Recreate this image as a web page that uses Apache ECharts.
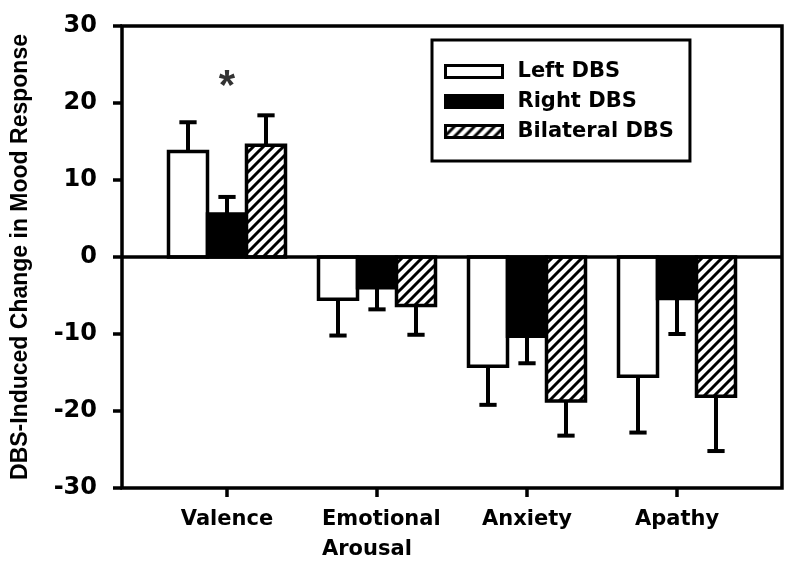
<!DOCTYPE html>
<html>
<head>
<meta charset="utf-8">
<script src="https://cdn.jsdelivr.net/npm/echarts@6/dist/echarts.min.js"></script>
<style>
html,body{margin:0;padding:0;background:#fff;}
#chart{width:795px;height:569px;}
</style>
</head>
<body>
<div id="chart"></div>
<script>
// ---- data ----
const categories = ['Valence', 'Emotional\nArousal', 'Anxiety', 'Apathy'];
const seriesNames = ['Left DBS', 'Right DBS', 'Bilateral DBS'];
const leftMean = [13.7, -5.5, -14.2, -15.5];
const leftErr = [3.8, 4.7, 5.0, 7.3];
const rightMean = [5.6, -4.0, -10.3, -5.4];
const rightErr = [2.2, 2.8, 3.5, 4.6];
const bilatMean = [14.5, -6.3, -18.7, -18.1];
const bilatErr = [3.9, 3.8, 4.5, 7.1];
const yTicks = [-30, -20, -10, 0, 10, 20, 30];
const significance = [{ category: 0, value: 22, mark: '*' }];

// ---- styles ----
const BAR_W = 0.26;   // in category units
const CAP_W = 0.115;
const LW = 3.5;

function makeHatch() {
  const c = document.createElement('canvas');
  c.width = 10; c.height = 10;
  const ctx = c.getContext('2d');
  ctx.fillStyle = '#fff';
  ctx.fillRect(0, 0, 10, 10);
  ctx.strokeStyle = '#000';
  ctx.lineWidth = 3;
  ctx.lineCap = 'square';
  ctx.beginPath();
  ctx.moveTo(-5, 15); ctx.lineTo(15, -5);
  ctx.moveTo(-10, 10); ctx.lineTo(10, -10);
  ctx.moveTo(0, 20); ctx.lineTo(20, 0);
  ctx.stroke();
  return c;
}
const hatch = { image: makeHatch(), repeat: 'repeat' };
const fills = ['#ffffff', '#000000', hatch];

function makeData(mean, err) {
  return mean.map((m, i) => [i, m, err[i]]);
}

function renderer(offsetIdx, fill) {
  return function (params, api) {
    const cat = api.value(0), val = api.value(1), err = api.value(2);
    const unit = api.size([1, 0])[0];
    const w = BAR_W * unit;
    const cap = CAP_W * unit;
    const base = api.coord([cat, 0]);
    const top = api.coord([cat, val]);
    const end = api.coord([cat, val + (val >= 0 ? err : -err)]);
    const cx = base[0] + offsetIdx * w;
    return {
      type: 'group',
      children: [
        { type: 'line', shape: { x1: cx, y1: top[1], x2: cx, y2: end[1] },
          style: { stroke: '#000', lineWidth: 4 } },
        { type: 'line', shape: { x1: cx - cap / 2, y1: end[1], x2: cx + cap / 2, y2: end[1] },
          style: { stroke: '#000', lineWidth: 4 } },
        { type: 'rect', shape: { x: cx - w / 2, y: Math.min(base[1], top[1]), width: w, height: Math.abs(top[1] - base[1]) },
          style: { fill: fill, stroke: '#000', lineWidth: LW } }
      ]
    };
  };
}

const chart = echarts.init(document.getElementById('chart'), null, { renderer: 'canvas' });
const option = {
  animation: false,
  backgroundColor: '#fff',
  grid: { left: 122, right: 13, top: 26, bottom: 81, show: true, borderColor: '#000', borderWidth: LW, backgroundColor: 'transparent' },
  xAxis: {
    type: 'value', min: -0.7, max: 3.7,
    splitLine: { show: false },
    axisLine: { show: false, onZero: false },
    axisTick: { show: true, customValues: [0, 1, 2, 3], length: 9, inside: false, lineStyle: { color: '#000', width: LW } },
    axisLabel: {
      show: true, customValues: [0, 1, 2, 3], margin: 17,
      formatter: function (v) {
        const s = categories[Math.round(v)];
        if (s.indexOf('\n') >= 0) {
          const p = s.split('\n');
          return '{a|' + p[0] + '}\n{b|' + p[1] + '}';
        }
        return s;
      },
      color: '#000', fontFamily: 'DejaVu Sans', fontWeight: 'bold', fontSize: 21, lineHeight: 30,
      rich: {
        a: { fontFamily: 'DejaVu Sans', fontWeight: 'bold', fontSize: 21, lineHeight: 30, color: '#000', width: 110, align: 'left' },
        b: { fontFamily: 'DejaVu Sans', fontWeight: 'bold', fontSize: 21, lineHeight: 30, color: '#000', width: 110, align: 'left' }
      }
    }
  },
  yAxis: {
    type: 'value', min: yTicks[0], max: yTicks[yTicks.length - 1], interval: 10,
    splitLine: { show: false },
    axisLine: { show: false, onZero: false },
    axisTick: { show: true, length: 9, inside: false, lineStyle: { color: '#000', width: LW } },
    axisLabel: { margin: 25, color: '#000', fontFamily: 'DejaVu Sans', fontWeight: 'bold', fontSize: 24 },
    name: 'DBS-Induced Change in Mood Response',
    nameLocation: 'middle', nameRotate: 90, nameGap: 90,
    nameTextStyle: { color: '#000', fontFamily: 'Liberation Sans', fontWeight: 'bold', fontSize: 23 }
  },
  legend: {
    left: 432, top: 40, orient: 'vertical',
    backgroundColor: '#fff', borderColor: '#000', borderWidth: 3,
    padding: [21, 16, 19, 12],
    itemWidth: 57, itemHeight: 12, itemGap: 9,
    textStyle: { color: '#000', fontFamily: 'DejaVu Sans', fontWeight: 'bold', fontSize: 21, padding: [0, 0, 0, 10] },
    data: [
      { name: seriesNames[0], icon: 'rect', itemStyle: { color: fills[0], borderColor: '#000', borderWidth: 3 } },
      { name: seriesNames[1], icon: 'rect', itemStyle: { color: fills[1], borderColor: '#000', borderWidth: 3 } },
      { name: seriesNames[2], icon: 'rect', itemStyle: { color: fills[2], borderColor: '#000', borderWidth: 3 } }
    ]
  },
  series: [
    { name: seriesNames[0], type: 'custom', renderItem: renderer(-1, fills[0]), data: makeData(leftMean, leftErr),
      itemStyle: { color: '#fff', borderColor: '#000' }, z: 3 },
    { name: seriesNames[1], type: 'custom', renderItem: renderer(0, fills[1]), data: makeData(rightMean, rightErr),
      itemStyle: { color: '#000', borderColor: '#000' }, z: 3 },
    { name: seriesNames[2], type: 'custom', renderItem: renderer(1, fills[2]), data: makeData(bilatMean, bilatErr),
      itemStyle: { color: '#000', borderColor: '#000' }, z: 3 },
    { name: 'sig', type: 'scatter', symbolSize: 0, z: 4, silent: true,
      data: significance.map(s => ({ value: [s.category, s.value], mark: s.mark })),
      label: { show: true, position: 'inside', formatter: p => p.data.mark, color: '#000', textBorderWidth: 0,
        fontFamily: 'Liberation Sans', fontWeight: 'bold', fontSize: 42 },
      markLine: { silent: true, symbol: ['none', 'none'], label: { show: false },
        lineStyle: { color: '#000', width: LW, type: 'solid' }, data: [{ yAxis: 0 }] } }
  ]
};
chart.setOption(option);
</script>
</body>
</html>
